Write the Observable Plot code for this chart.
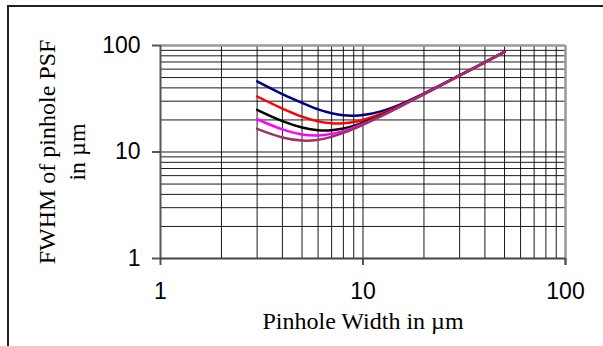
<!DOCTYPE html>
<html><head><meta charset="utf-8">
<script src="https://cdn.jsdelivr.net/npm/d3@7"></script>
<script src="https://cdn.jsdelivr.net/npm/@observablehq/plot@0.6"></script>
<style>
body{margin:0;background:#fff}
#wrap{position:relative;width:603px;height:346px;overflow:hidden;background:#fff}
#border{position:absolute;left:7px;top:5px;width:640px;height:400px;border:2px solid #222;box-sizing:border-box;z-index:2;pointer-events:none}
#chart{position:absolute;left:0;top:0;z-index:1}
</style></head><body>
<div id="wrap"><div id="border"></div><div id="chart"></div></div>
<script>
const pinholeWidth = [3, 4, 5, 6, 7, 8, 9, 10, 12, 15, 20, 30, 50];
const seriesNavy    = [46.0, 34.9, 28.9, 25.1, 23.1, 22.1, 21.9, 22.2, 23.8, 27.6, 35.5, 52.4, 87.0];
const seriesRed     = [33.2, 25.6, 21.5, 19.4, 18.6, 18.6, 19.1, 20.0, 22.4, 26.9, 35.1, 52.3, 87.0];
const seriesBlack   = [24.9, 19.5, 17.0, 16.0, 16.0, 16.6, 17.6, 18.9, 21.7, 26.5, 35.0, 52.3, 87.0];
const seriesMagenta = [20.3, 16.3, 14.6, 14.3, 14.8, 15.7, 17.0, 18.4, 21.4, 26.4, 34.9, 52.2, 87.0];
const seriesMauve   = [16.5, 13.7, 12.8, 13.0, 13.9, 15.1, 16.5, 18.0, 21.2, 26.3, 34.9, 52.2, 87.0];
const seriesNames   = ["navy", "red", "black", "magenta", "mauve"];
const seriesColors  = ["#000080", "#ff0000", "#000000", "#ff00ff", "#993366"];
const majorTicks = [1, 10, 100];
const tickLabels = ["1", "10", "100"];
const gridValues = [1, 2, 3, 4, 5, 6, 7, 8, 9, 10, 20, 30, 40, 50, 60, 70, 80, 90, 100];
const xTitle = "Pinhole Width in µm";
const yTitleLine1 = "FWHM of pinhole PSF";
const yTitleLine2 = "in µm";

const allSeries = [seriesNavy, seriesRed, seriesBlack, seriesMagenta, seriesMauve];
const rows = [];
allSeries.forEach((vals, si) => vals.forEach((v, i) => rows.push({name: seriesNames[si], x: pinholeWidth[i], y: v})));

const tickFont = {fontFamily: "Liberation Sans, Arial, sans-serif", fontSize: 23, fill: "#000"};
const titleFont = {fontFamily: "Liberation Serif, Times New Roman, serif", fontSize: 24, fill: "#000"};

const chart = Plot.plot({
  width: 603, height: 346,
  marginLeft: 160, marginRight: 38, marginTop: 45, marginBottom: 88,
  style: {background: "transparent", fontFamily: "Liberation Sans, Arial, sans-serif", color: "#000"},
  x: {type: "log", domain: [1, 100]},
  y: {type: "log", domain: [1, 100]},
  color: {domain: seriesNames, range: seriesColors},
  marks: [
    Plot.ruleX(gridValues, {stroke: "#000", strokeWidth: 1, strokeOpacity: 0.9}),
    Plot.ruleY(gridValues, {stroke: "#000", strokeWidth: 1, strokeOpacity: 0.9}),
    Plot.ruleY([100], {stroke: "#999", strokeWidth: 2.5}),
    Plot.ruleX([100], {stroke: "#999", strokeWidth: 2.5, y1: 100, y2: 1, insetBottom: -7}),
    Plot.axisX(majorTicks, {tickSize: 7, text: null, label: null, stroke: "#555", strokeWidth: 2}),
    Plot.axisY(majorTicks, {tickSize: 8, text: null, label: null, stroke: "#555", strokeWidth: 2}),
    Plot.text(majorTicks, {x: d => d, text: (d, i) => tickLabels[i], frameAnchor: "bottom", dy: 33.5, lineAnchor: "middle", ...tickFont}),
    Plot.text(majorTicks, {y: d => d, text: (d, i) => tickLabels[i], frameAnchor: "left", dx: -20, textAnchor: "end", lineAnchor: "middle", ...tickFont}),
    Plot.ruleX([1], {stroke: "#555", strokeWidth: 2}),
    Plot.ruleY([1], {stroke: "#444", strokeWidth: 2}),
    Plot.line(rows, {x: "x", y: "y", z: "name", stroke: "name", strokeWidth: 2.5, curve: "catmull-rom"}),
    Plot.text([xTitle], {frameAnchor: "bottom", dy: 70, text: d => d, ...titleFont}),
    Plot.text([yTitleLine1], {frameAnchor: "left", dx: -113, rotate: -90, text: d => d, textAnchor: "middle", lineAnchor: "middle", ...titleFont}),
    Plot.text([yTitleLine2], {frameAnchor: "left", dx: -83, rotate: -90, text: d => d, textAnchor: "middle", lineAnchor: "middle", ...titleFont})
  ]
});
document.getElementById("chart").appendChild(chart);
</script>
</body></html>
